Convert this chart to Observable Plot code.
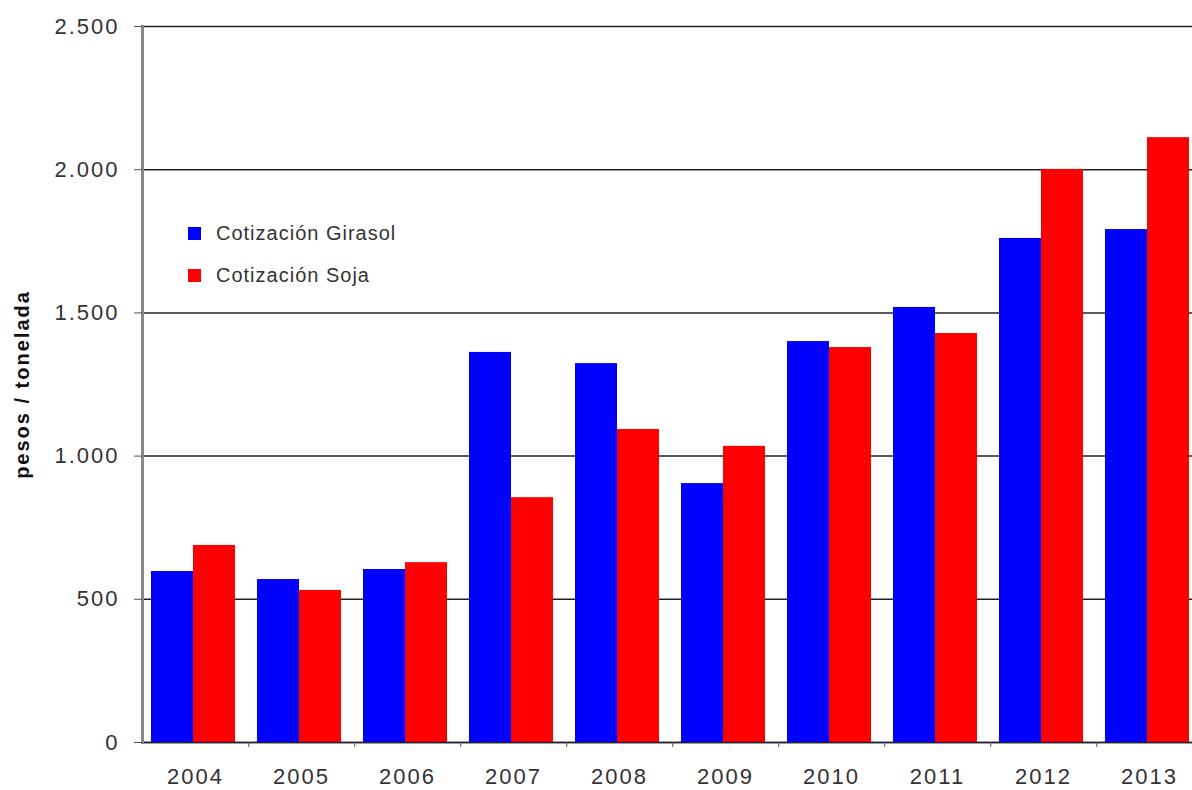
<!DOCTYPE html>
<html>
<head>
<meta charset="utf-8">
<script src="https://cdn.jsdelivr.net/npm/d3@7"></script>
<script src="https://cdn.jsdelivr.net/npm/@observablehq/plot@0.6"></script>
<style>
  html, body { margin: 0; padding: 0; background: #fff; overflow: hidden; }
  #wrap { position: relative; width: 1192px; height: 790px; overflow: hidden; }
  #wrap svg { overflow: hidden; }
  #wrap svg text { letter-spacing: 2px; }
  [aria-label="y-axis label"] text { font-weight: bold; fill: #111; font-size: 20px; letter-spacing: 1.5px; }
  #legend { position: absolute; left: 188px; top: 212px; font-family: "Liberation Sans", Arial, sans-serif; font-size: 20px; letter-spacing: 1px; color: #333; }
  #legend .item { display: flex; align-items: center; height: 42px; }
  #legend .sw { width: 13px; height: 13px; margin-right: 15px; }
</style>
</head>
<body>
<div id="wrap"></div>
<script>
const years = ["2004","2005","2006","2007","2008","2009","2010","2011","2012","2013"];
const series = ["Cotización Girasol", "Cotización Soja"];
const girasol = [597, 569, 604, 1362, 1323, 904, 1400, 1519, 1760, 1791];
const soja = [688, 531, 628, 855, 1093, 1034, 1379, 1428, 2001, 2112];
const yTicks = [0, 500, 1000, 1500, 2000, 2500];
const colors = ["#0000ff", "#ff0000"];

const data = [];
years.forEach((y, i) => {
  data.push({year: y, series: series[0], value: girasol[i]});
  data.push({year: y, series: series[1], value: soja[i]});
});

const fmt = d3.formatLocale({decimal: ",", thousands: ".", grouping: [3], currency: ["", ""]}).format(",d");

const chart = Plot.plot({
  width: 1192,
  height: 790,
  marginTop: 26,
  marginBottom: 48,
  marginLeft: 140,
  marginRight: -12,
  style: {fontFamily: "'Liberation Sans', Arial, sans-serif", color: "#333", background: "#fff"},
  fx: {domain: years, padding: 0, label: null},
  x: {domain: series, paddingInner: 0, paddingOuter: 0.25, align: 0.4, axis: null},
  y: {domain: [0, 2500], label: null},
  color: {domain: series, range: colors},
  marks: [
    Plot.gridY(yTicks, {stroke: "#222", strokeOpacity: 1, strokeWidth: 1.5}),
    Plot.barY(data, {fx: "year", x: "series", y: "value", fill: "series"}),
    Plot.ruleY([0], {stroke: "#223", strokeWidth: 1.5}),
    Plot.frame({anchor: "left", facetAnchor: "left", stroke: "#888", strokeWidth: 3}),
    Plot.axisY(yTicks, {tickFormat: fmt, tickSize: 8, tickPadding: 15, fontSize: 22, stroke: "#555", fill: "#333",
      label: "pesos / tonelada", labelArrow: "none", labelAnchor: "center", labelOffset: 128}),
    Plot.axisFx({anchor: "bottom", tickSize: 0, tickPadding: 26, fontSize: 22, fill: "#333", label: null}),
    Plot.axisFx({anchor: "bottom", tickSize: 5, text: null, dx: 53.2, stroke: "#555", label: null})
  ]
});

document.getElementById("wrap").appendChild(chart);

const legend = document.createElement("div");
legend.id = "legend";
series.forEach((s, i) => {
  const item = document.createElement("div");
  item.className = "item";
  const sw = document.createElement("span");
  sw.className = "sw";
  sw.style.background = colors[i];
  const t = document.createElement("span");
  t.textContent = s;
  item.appendChild(sw);
  item.appendChild(t);
  legend.appendChild(item);
});
document.getElementById("wrap").appendChild(legend);
</script>
</body>
</html>
